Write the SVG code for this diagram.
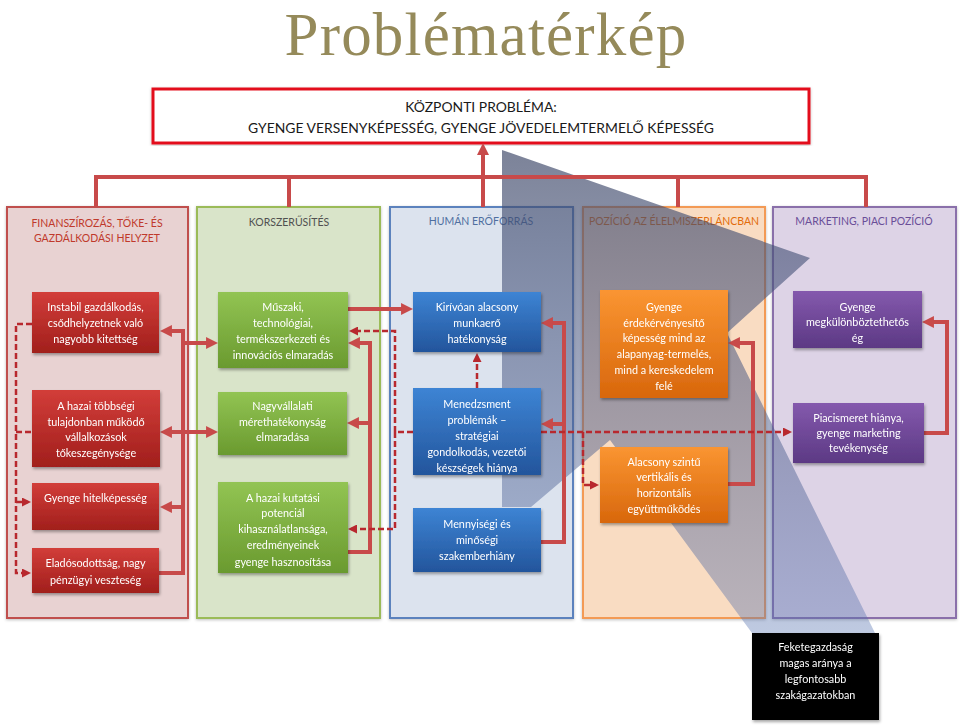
<svg xmlns="http://www.w3.org/2000/svg" width="960" height="727" viewBox="0 0 960 727">
<style>
text{font-family:Lato,"Open Sans","DejaVu Sans",sans-serif}
.nt{fill:#fff;font-size:10.8px;text-anchor:middle}
.hd{font-size:10.5px;text-anchor:middle}
.col{stroke-width:2}
.c{fill:none;stroke:#c84a4a;stroke-width:4;stroke-linejoin:miter}
.d{fill:none;stroke:#b8282e;stroke-width:2.5;stroke-dasharray:6 3}
.ca{marker-end:url(#ah)}
.da{marker-end:url(#dh)}
.nd{filter:url(#sh)}
</style>
<defs>
<filter id="sh" x="-20%" y="-20%" width="140%" height="150%"><feDropShadow dx="1" dy="2" stdDeviation="1.5" flood-color="#000" flood-opacity="0.35"/></filter>
<filter id="sh2" x="-5%" y="-5%" width="110%" height="110%"><feDropShadow dx="0" dy="1" stdDeviation="1.5" flood-color="#000" flood-opacity="0.25"/></filter>
<marker id="ah" viewBox="0 0 10 10" refX="5.8" refY="5" markerWidth="12" markerHeight="12" markerUnits="userSpaceOnUse" orient="auto"><path d="M0,0 L10,5 L0,10 z" fill="#c84a4a"/></marker>
<marker id="dh" viewBox="0 0 10 10" refX="6.7" refY="5" markerWidth="9" markerHeight="9" markerUnits="userSpaceOnUse" orient="auto"><path d="M0,0 L10,5 L0,10 z" fill="#b8282e"/></marker>
<linearGradient id="gr" x1="0" y1="0" x2="0" y2="1"><stop offset="0" stop-color="#d23d39"/><stop offset="1" stop-color="#a11f1c"/></linearGradient>
<linearGradient id="gg" x1="0" y1="0" x2="0" y2="1"><stop offset="0" stop-color="#92c453"/><stop offset="1" stop-color="#6a9a2f"/></linearGradient>
<linearGradient id="gb" x1="0" y1="0" x2="0" y2="1"><stop offset="0" stop-color="#3d84d4"/><stop offset="1" stop-color="#23559c"/></linearGradient>
<linearGradient id="go" x1="0" y1="0" x2="0" y2="1"><stop offset="0" stop-color="#fa9532"/><stop offset="1" stop-color="#d8670c"/></linearGradient>
<linearGradient id="gp" x1="0" y1="0" x2="0" y2="1"><stop offset="0" stop-color="#8459ad"/><stop offset="1" stop-color="#5c3984"/></linearGradient>
<linearGradient id="gov" x1="0" y1="150" x2="0" y2="633" gradientUnits="userSpaceOnUse"><stop offset="0" stop-color="#3e4868" stop-opacity="0.68"/><stop offset="0.55" stop-color="#4a5a88" stop-opacity="0.5"/><stop offset="1" stop-color="#5572b0" stop-opacity="0.38"/></linearGradient>
</defs>
<rect width="960" height="727" fill="#fff"/>
<text x="486" y="54.5" font-family="'Liberation Serif','Times New Roman',serif" style="font-family:'Liberation Serif','Times New Roman',serif;letter-spacing:1.2px" font-size="61" fill="#958a5a" text-anchor="middle">Problématérkép</text>

<g id="kozponti">
<rect x="153" y="89" width="656" height="54" fill="#fff" stroke="#e3101e" stroke-width="3" filter="url(#sh2)"/>
<text x="481" y="112" font-size="13.9" fill="#1a1a1a" text-anchor="middle">KÖZPONTI PROBLÉMA:</text>
<text x="481" y="133" font-size="13.9" fill="#1a1a1a" text-anchor="middle">GYENGE VERSENYKÉPESSÉG, GYENGE JÖVEDELEMTERMELŐ KÉPESSÉG</text>
</g>

<g id="col-finansz">
<rect class="col" x="7" y="207" width="181" height="411" fill="#e8d2d2" stroke="#c0504d" filter="url(#sh2)"/>
<text class="hd" x="97" y="227" fill="#c0392b">FINANSZÍROZÁS, TŐKE- ÉS</text>
<text class="hd" x="97" y="242" fill="#c0392b">GAZDÁLKODÁSI HELYZET</text>
</g>
<g id="col-korszer">
<rect class="col" x="197" y="207" width="183" height="411" fill="#d9e4c9" stroke="#9bbb59" filter="url(#sh2)"/>
<text class="hd" x="289" y="226" fill="#505050">KORSZERŰSÍTÉS</text>
</g>
<g id="col-human">
<rect class="col" x="390" y="207" width="183" height="411" fill="#dce3ee" stroke="#5b82bd" filter="url(#sh2)"/>
<text class="hd" x="481" y="225" fill="#4f6fa0">HUMÁN ERŐFORRÁS</text>
</g>
<g id="col-pozicio">
<rect class="col" x="583" y="207" width="182" height="411" fill="#f9dcc2" stroke="#f39a55" filter="url(#sh2)"/>
<text class="hd" x="674" y="225" fill="#e36c0a">POZÍCIÓ AZ ÉLELMISZERLÁNCBAN</text>
</g>
<g id="col-marketing">
<rect class="col" x="773" y="207" width="183" height="411" fill="#ddd3e6" stroke="#8a70aa" filter="url(#sh2)"/>
<text class="hd" x="864" y="225" fill="#6a4e98">MARKETING, PIACI POZÍCIÓ</text>
</g>

<g id="overlay">
<polygon points="502,150 810,258 727,333 875,633 752,633 610,440 531,507 502,507" fill="url(#gov)"/>
</g>

<g id="connectors">
<path class="c" d="M96,207 V177 H866 V207 M289,177 V207 M678,177 V207"/>
<path class="c ca" d="M483,207 V148"/>
<path class="c ca" d="M159,573 H183 V331 H165"/>
<path class="c ca" d="M183,432 H165"/>
<path class="c ca" d="M183,432 H213"/>
<path class="c ca" d="M183,507 H165"/>
<path class="c ca" d="M183,343 H213"/>
<path class="c ca" d="M347,552 H370 V343 H353"/>
<path class="c ca" d="M370,423 H352"/>
<path class="c ca" d="M348,309 H408"/>
<path class="c ca" d="M541,542 H564 V323 H546"/>
<path class="c ca" d="M564,424 H546"/>
<path class="c ca" d="M728,484 H753 V343 H733"/>
<path class="c ca" d="M924,433 H947 V322 H927"/>
<path class="d da" d="M32,324 H16 V573 H28"/>
<path class="d" d="M16,432 H32"/>
<path class="d da" d="M16,502 H28"/>
<path class="d da" d="M413,432 H395 V331 H352"/>
<path class="d da" d="M395,432 V529 H351"/>
<path class="d da" d="M477,388 V356"/>
<path class="d da" d="M541,432 H789"/>
<path class="d da" d="M583,432 V485 H596"/>
</g>

<g id="n-instabil" class="nd"><rect x="32" y="292" width="127" height="61" fill="url(#gr)"/>
<text class="nt" x="95.5" y="311">Instabil gazdálkodás,</text><text class="nt" x="95.5" y="327">csődhelyzetnek való</text><text class="nt" x="95.5" y="343">nagyobb kitettség</text></g>
<g id="n-tokeszeg" class="nd"><rect x="32" y="390" width="128" height="77" fill="url(#gr)"/>
<text class="nt" x="96" y="410">A hazai többségi</text><text class="nt" x="96" y="426">tulajdonban működő</text><text class="nt" x="96" y="441">vállalkozások</text><text class="nt" x="96" y="457">tőkeszegénysége</text></g>
<g id="n-hitel" class="nd"><rect x="32" y="483" width="127" height="47" fill="url(#gr)"/>
<text class="nt" x="95.5" y="502">Gyenge hitelképesség</text></g>
<g id="n-eladosodott" class="nd"><rect x="32" y="548" width="127" height="45" fill="url(#gr)"/>
<text class="nt" x="95.5" y="567">Eladósodottság, nagy</text><text class="nt" x="95.5" y="584">pénzügyi veszteség</text></g>

<g id="n-muszaki" class="nd"><rect x="218" y="292" width="130" height="76" fill="url(#gg)"/>
<text class="nt" x="283" y="311">Műszaki,</text><text class="nt" x="283" y="327">technológiai,</text><text class="nt" x="283" y="343">termékszerkezeti és</text><text class="nt" x="283" y="359">innovációs elmaradás</text></g>
<g id="n-nagyvall" class="nd"><rect x="218" y="392" width="129" height="63" fill="url(#gg)"/>
<text class="nt" x="282.5" y="410">Nagyvállalati</text><text class="nt" x="282.5" y="426">mérethatékonyság</text><text class="nt" x="282.5" y="441">elmaradása</text></g>
<g id="n-kutatas" class="nd"><rect x="218" y="482" width="130" height="91" fill="url(#gg)"/>
<text class="nt" x="283" y="502">A hazai kutatási</text><text class="nt" x="283" y="517">potenciál</text><text class="nt" x="283" y="533">kihasználatlansága,</text><text class="nt" x="283" y="549">eredményeinek</text><text class="nt" x="283" y="566">gyenge hasznosítása</text></g>

<g id="n-kirivoan" class="nd"><rect x="413" y="292" width="128" height="60" fill="url(#gb)"/>
<text class="nt" x="477" y="311">Kirívóan alacsony</text><text class="nt" x="477" y="327">munkaerő</text><text class="nt" x="477" y="343">hatékonyság</text></g>
<g id="n-menedzsment" class="nd"><rect x="413" y="388" width="128" height="87" fill="url(#gb)"/>
<text class="nt" x="477" y="408">Menedzsment</text><text class="nt" x="477" y="424">problémák –</text><text class="nt" x="477" y="440">stratégiai</text><text class="nt" x="477" y="456">gondolkodás, vezetői</text><text class="nt" x="477" y="472">készségek hiánya</text></g>
<g id="n-szakember" class="nd"><rect x="413" y="508" width="128" height="64" fill="url(#gb)"/>
<text class="nt" x="477" y="528">Mennyiségi és</text><text class="nt" x="477" y="544">minőségi</text><text class="nt" x="477" y="560">szakemberhiány</text></g>

<g id="n-erdek" class="nd"><rect x="600" y="290" width="128" height="108" fill="url(#go)"/>
<text class="nt" x="664" y="311">Gyenge</text><text class="nt" x="664" y="327">érdekérvényesítő</text><text class="nt" x="664" y="342">képesség mind az</text><text class="nt" x="664" y="358">alapanyag-termelés,</text><text class="nt" x="664" y="374">mind a kereskedelem</text><text class="nt" x="664" y="390">felé</text></g>
<g id="n-egyutt" class="nd"><rect x="600" y="447" width="128" height="76" fill="url(#go)"/>
<text class="nt" x="664" y="466">Alacsony szintű</text><text class="nt" x="664" y="481">vertikális és</text><text class="nt" x="664" y="497">horizontális</text><text class="nt" x="664" y="513">együttműködés</text></g>

<g id="n-megkul" class="nd"><rect x="793" y="291" width="129" height="57" fill="url(#gp)"/>
<text class="nt" x="857.5" y="311">Gyenge</text><text class="nt" x="857.5" y="326">megkülönböztethetős</text><text class="nt" x="857.5" y="342">ég</text></g>
<g id="n-piac" class="nd"><rect x="793" y="403" width="131" height="60" fill="url(#gp)"/>
<text class="nt" x="858.5" y="422">Piacismeret hiánya,</text><text class="nt" x="858.5" y="437">gyenge marketing</text><text class="nt" x="858.5" y="452">tevékenység</text></g>

<g id="n-fekete" class="nd"><rect x="752" y="633" width="127" height="87" fill="#000"/>
<text class="nt" x="815.5" y="651">Feketegazdaság</text><text class="nt" x="815.5" y="667">magas aránya a</text><text class="nt" x="815.5" y="683">legfontosabb</text><text class="nt" x="815.5" y="699">szakágazatokban</text></g>
</svg>
